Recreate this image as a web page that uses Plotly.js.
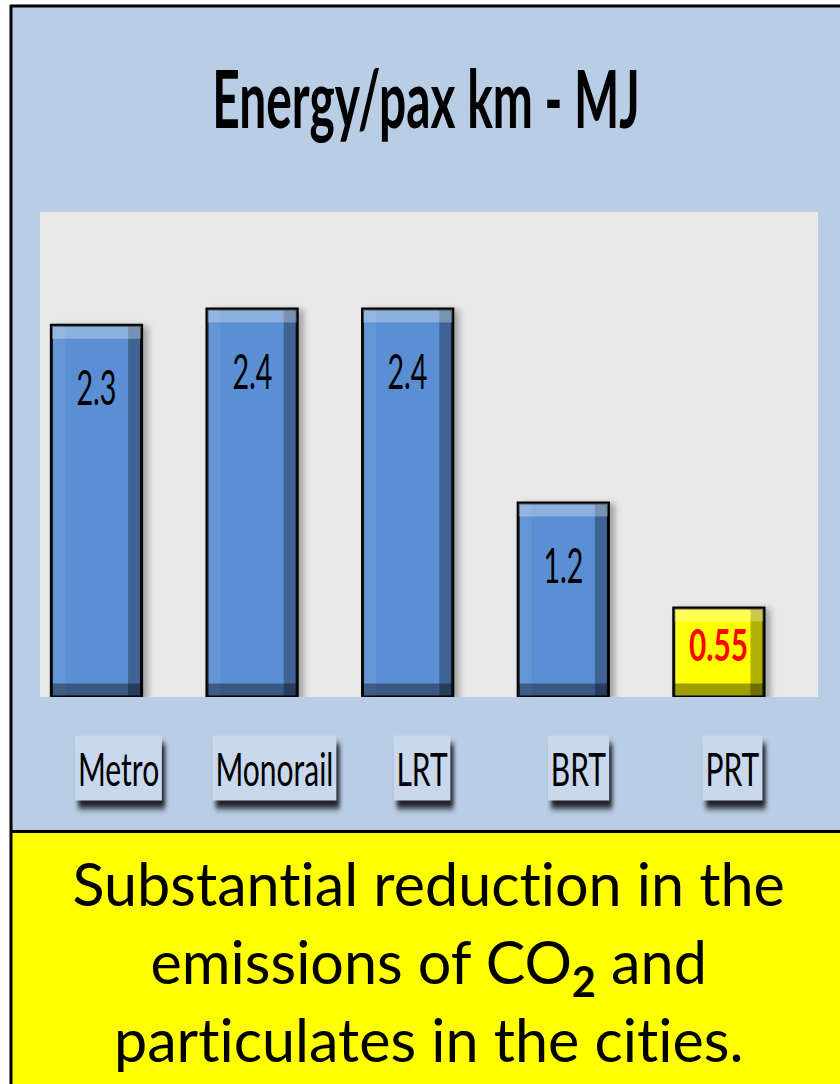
<!DOCTYPE html>
<html><head><meta charset="utf-8">
<script src="https://cdn.plot.ly/plotly-3.0.1.min.js"></script>
<style>
html,body{margin:0;padding:0;background:#fff;}
#chart{width:840px;height:1084px;}
#chart text{font-variant-ligatures:none;font-feature-settings:"liga" 0,"clig" 0;}
</style>
</head><body>
<svg width="0" height="0" style="position:absolute">
  <defs>
    <filter id="bevel" x="-10%" y="-10%" width="130%" height="130%" color-interpolation-filters="sRGB">
      <feMorphology in="SourceAlpha" operator="erode" radius="2" result="face"/>
      <feOffset in="face" dx="13" dy="0" result="sL"/>
      <feComposite in="face" in2="sL" operator="out" result="bandL"/>
      <feOffset in="face" dx="-13" dy="0" result="sR"/>
      <feComposite in="face" in2="sR" operator="out" result="bandR"/>
      <feOffset in="face" dx="0" dy="13" result="sT"/>
      <feComposite in="face" in2="sT" operator="out" result="bandT"/>
      <feOffset in="face" dx="0" dy="-13" result="sB"/>
      <feComposite in="face" in2="sB" operator="out" result="bandB"/>
      <feFlood flood-color="#fff" flood-opacity="0.06"/><feComposite in2="bandL" operator="in" result="cL"/>
      <feFlood flood-color="#000" flood-opacity="0.30"/><feComposite in2="bandR" operator="in" result="cR"/>
      <feFlood flood-color="#fff" flood-opacity="0.30"/><feComposite in2="bandT" operator="in" result="cT"/>
      <feFlood flood-color="#000" flood-opacity="0.38"/><feComposite in2="bandB" operator="in" result="cB"/>
      <feMerge result="bev"><feMergeNode in="SourceGraphic"/><feMergeNode in="cL"/><feMergeNode in="cR"/><feMergeNode in="cT"/><feMergeNode in="cB"/></feMerge>
      <feGaussianBlur in="SourceAlpha" stdDeviation="3"/><feOffset dx="5" dy="2" result="sh"/>
      <feFlood flood-color="#000" flood-opacity="0.30"/><feComposite in2="sh" operator="in" result="shadow"/>
      <feMerge><feMergeNode in="shadow"/><feMergeNode in="bev"/></feMerge>
    </filter>
  </defs>
</svg>
<div id="chart"></div>
<script>
const categories = ['Metro', 'Monorail', 'LRT', 'BRT', 'PRT'];
const energyMJ = [2.3, 2.4, 2.4, 1.2, 0.55];
const valueLabels = ['2.3', '2.4', '2.4', '1.2', '0.55'];
const highlightCategory = 'PRT';
const chartTitle = 'Energy/pax km - MJ';
const noteText = 'Substantial reduction in the<br>emissions of CO<b><sub>2</sub></b> and<br>particulates in the cities.';

const W = 840, H = 1084, L = 40, R = 22, T = 212, BOT = 697;
const B = H - BOT;
const pw = W - L - R, ph = BOT - T;
const px = x => (x - L) / pw;
const py = y => (BOT - y) / ph;
const YMAX = 3;
const FONT = 'Lato, "Open Sans", "DejaVu Sans", sans-serif';
const labelNudgePx = [22, 22, 14, 15, 14]; // layout: category label boxes sit slightly right of bar centres

const isHi = categories.map(c => c === highlightCategory);
const barColors = isHi.map(h => h ? '#ffff00' : '#5b8fd3');

const trace = {
  type: 'bar',
  x: categories,
  y: energyMJ,
  width: 0.58,
  marker: { color: barColors, line: { color: '#000', width: 3 } },
  hoverinfo: 'none'
};

const annotations = [];
const annKind = [];
annotations.push({
  xref: 'paper', yref: 'paper', x: px(426), y: py(97), showarrow: false,
  text: '<b>' + chartTitle + '</b>', font: { family: FONT, size: 80, color: '#000' },
  xanchor: 'center', yanchor: 'middle'
});
annKind.push('title');
categories.forEach((c, i) => {
  const barPx = energyMJ[i] * ph / YMAX;
  annotations.push({
    xref: 'x', yref: 'y', x: c, y: energyMJ[i], showarrow: false,
    yshift: -Math.min(61, barPx * 0.4), yanchor: 'middle',
    text: isHi[i] ? '<b>' + valueLabels[i] + '</b>' : valueLabels[i],
    font: { family: FONT, size: isHi[i] ? 44 : 48, color: isHi[i] ? '#ff0000' : '#000' }
  });
  annKind.push(isHi[i] ? 'valueHi' : 'value');
  annotations.push({
    xref: 'x', yref: 'paper', x: c, y: py(768), showarrow: false,
    xshift: labelNudgePx[i], xanchor: 'center', yanchor: 'middle',
    text: c, font: { family: FONT, size: 47, color: '#000' },
    bgcolor: '#c9d8ec', borderpad: 4
  });
  annKind.push('label');
});
annotations.push({
  xref: 'paper', yref: 'paper', x: px(428), y: py(961), showarrow: false,
  text: noteText, font: { family: FONT, size: 60, color: '#000' },
  xanchor: 'center', yanchor: 'middle', align: 'center'
});
annKind.push('note');

const shapes = [
  { type: 'rect', xref: 'paper', yref: 'paper', layer: 'below', x0: px(12), x1: px(842), y0: py(831), y1: py(7), fillcolor: '#b9cde5', line: { width: 0 } },
  { type: 'rect', xref: 'paper', yref: 'paper', layer: 'below', x0: 0, x1: 1, y0: 0, y1: 1, fillcolor: '#e9e9e9', line: { width: 0 } },
  { type: 'rect', xref: 'paper', yref: 'paper', layer: 'below', x0: px(12), x1: px(842), y0: py(1086), y1: py(833), fillcolor: '#ffff00', line: { width: 0 } },
  { type: 'line', xref: 'paper', yref: 'paper', x0: px(10), x1: px(842), y0: py(6), y1: py(6), line: { color: '#000', width: 3 } },
  { type: 'line', xref: 'paper', yref: 'paper', x0: px(10), x1: px(842), y0: py(831.5), y1: py(831.5), line: { color: '#000', width: 3 } },
  { type: 'line', xref: 'paper', yref: 'paper', x0: px(11), x1: px(11), y0: py(5), y1: py(1086), line: { color: '#000', width: 3 } }
];

const layout = {
  width: W, height: H,
  margin: { l: L, r: R, t: T, b: B, pad: 0 },
  paper_bgcolor: '#ffffff',
  plot_bgcolor: 'rgba(0,0,0,0)',
  showlegend: false,
  xaxis: { type: 'category', range: [-0.363, 4.637], showticklabels: false, showgrid: false, zeroline: false, showline: false, ticks: '', fixedrange: true },
  yaxis: { range: [0, YMAX], visible: false, showgrid: false, zeroline: false, fixedrange: true },
  annotations: annotations,
  shapes: shapes
};

// horizontal squeeze (the reference uses a condensed face) — target widths per text kind
const kindWidth = { title: 428, value: 40, valueHi: 59, label: 118, note: 713 };
const kindRef = { title: chartTitle, value: '2.4', valueHi: '0.55', label: 'Monorail', note: null };

Plotly.newPlot('chart', [trace], layout, { displayModeBar: false, staticPlot: true }).then(gd => {
  gd.querySelectorAll('.bars .point path').forEach(p => p.setAttribute('filter', 'url(#bevel)'));
  const groups = Array.from(gd.querySelectorAll('.annotation'));
  const widths = {};
  groups.forEach(g => {
    const k = annKind[+g.getAttribute('data-index')];
    const t = g.querySelector('text');
    const w = t.getBBox().width;
    const txt = t.textContent;
    if (k === 'note' || txt === kindRef[k]) widths[k] = Math.max(widths[k] || 0, w);
  });
  groups.forEach(g => {
    const k = annKind[+g.getAttribute('data-index')];
    const tg = g.querySelector('.annotation-text-g');
    const sx = widths[k] ? kindWidth[k] / widths[k] : 1;
    tg.style.transformBox = 'fill-box';
    tg.style.transformOrigin = 'center';
    tg.style.transform = 'scale(' + sx.toFixed(3) + ',1)';
    if (k === 'label') {
      const r = g.querySelector('rect.bg');
      if (r) r.style.filter = 'drop-shadow(5px 8px 3px rgba(0,0,0,0.85))';
    }
  });
});
</script>
</body></html>
